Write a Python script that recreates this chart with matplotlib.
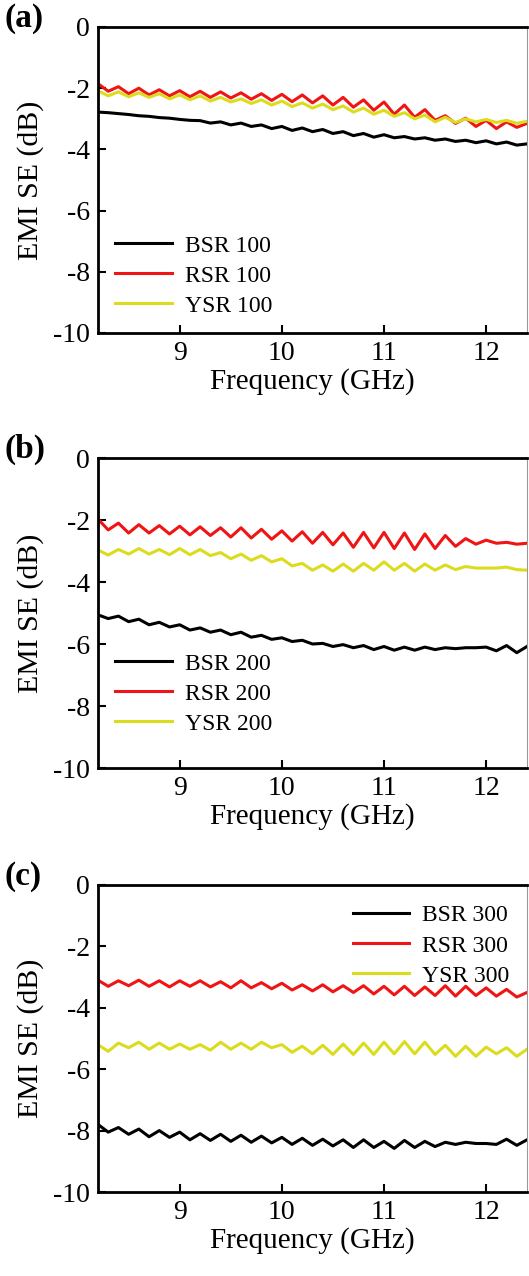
import numpy as np
import matplotlib
matplotlib.use("Agg")
import matplotlib.pyplot as plt

plt.rcParams['font.family'] = ['Liberation Serif', 'DejaVu Serif']
plt.rcParams['axes.unicode_minus'] = False

# frequency grid (GHz), 0.1 GHz steps 8.2 .. 12.4
freq = np.round(np.linspace(8.2, 12.4, 43), 2)

# panel (a)
bsr100 = [-2.78, -2.80, -2.83, -2.86, -2.90, -2.92, -2.96, -2.98, -3.02, -3.05,
          -3.06, -3.14, -3.10, -3.20, -3.14, -3.25, -3.20, -3.32, -3.25, -3.38,
          -3.30, -3.42, -3.35, -3.48, -3.42, -3.55, -3.48, -3.60, -3.52, -3.62,
          -3.58, -3.66, -3.62, -3.70, -3.66, -3.74, -3.70, -3.78, -3.72, -3.82,
          -3.76, -3.86, -3.82]
rsr100 = [-1.85, -2.10, -1.95, -2.18, -2.00, -2.22, -2.05, -2.25, -2.08, -2.28,
          -2.10, -2.30, -2.12, -2.32, -2.15, -2.36, -2.18, -2.40, -2.20, -2.44,
          -2.22, -2.48, -2.25, -2.55, -2.30, -2.62, -2.38, -2.72, -2.45, -2.85,
          -2.55, -2.95, -2.70, -3.05, -2.90, -3.15, -2.98, -3.25, -3.05, -3.32,
          -3.10, -3.28, -3.15]
ysr100 = [-2.08, -2.25, -2.12, -2.28, -2.15, -2.30, -2.18, -2.35, -2.22, -2.38,
          -2.25, -2.42, -2.30, -2.45, -2.35, -2.50, -2.38, -2.55, -2.42, -2.60,
          -2.48, -2.65, -2.52, -2.70, -2.58, -2.78, -2.65, -2.85, -2.72, -2.92,
          -2.80, -3.00, -2.88, -3.10, -2.95, -3.12, -3.00, -3.10, -3.02, -3.12,
          -3.05, -3.15, -3.08]

# panel (b)
bsr200 = [-5.06, -5.18, -5.10, -5.28, -5.20, -5.38, -5.30, -5.45, -5.38, -5.55,
          -5.48, -5.62, -5.55, -5.70, -5.62, -5.78, -5.72, -5.85, -5.80, -5.92,
          -5.88, -6.00, -5.98, -6.08, -6.02, -6.12, -6.05, -6.18, -6.08, -6.20,
          -6.10, -6.20, -6.10, -6.18, -6.12, -6.15, -6.12, -6.12, -6.10, -6.22,
          -6.05, -6.28, -6.08]
rsr200 = [-1.97, -2.32, -2.10, -2.42, -2.15, -2.42, -2.18, -2.45, -2.20, -2.48,
          -2.22, -2.50, -2.25, -2.55, -2.25, -2.58, -2.30, -2.62, -2.35, -2.68,
          -2.38, -2.75, -2.40, -2.80, -2.42, -2.88, -2.40, -2.90, -2.40, -2.92,
          -2.42, -2.95, -2.45, -2.92, -2.50, -2.85, -2.60, -2.78, -2.65, -2.75,
          -2.72, -2.78, -2.75]
ysr200 = [-2.97, -3.13, -2.95, -3.10, -2.92, -3.10, -2.95, -3.12, -2.92, -3.12,
          -2.95, -3.15, -3.05, -3.25, -3.10, -3.30, -3.15, -3.35, -3.25, -3.48,
          -3.40, -3.62, -3.45, -3.65, -3.42, -3.65, -3.40, -3.62, -3.35, -3.62,
          -3.40, -3.65, -3.42, -3.62, -3.45, -3.60, -3.50, -3.55, -3.55, -3.55,
          -3.52, -3.60, -3.62]

# panel (c)
bsr300 = [-7.80, -8.05, -7.90, -8.12, -7.95, -8.20, -8.00, -8.22, -8.05, -8.30,
          -8.10, -8.32, -8.12, -8.35, -8.15, -8.38, -8.18, -8.40, -8.22, -8.45,
          -8.25, -8.48, -8.28, -8.50, -8.30, -8.55, -8.30, -8.55, -8.35, -8.58,
          -8.32, -8.55, -8.35, -8.52, -8.38, -8.45, -8.38, -8.42, -8.42, -8.45,
          -8.28, -8.48, -8.30]
rsr300 = [-3.10, -3.30, -3.12, -3.28, -3.10, -3.30, -3.12, -3.32, -3.12, -3.30,
          -3.12, -3.32, -3.15, -3.35, -3.12, -3.35, -3.18, -3.38, -3.20, -3.42,
          -3.25, -3.45, -3.25, -3.48, -3.28, -3.50, -3.28, -3.55, -3.30, -3.58,
          -3.30, -3.60, -3.32, -3.60, -3.28, -3.62, -3.30, -3.60, -3.35, -3.62,
          -3.40, -3.65, -3.50]
ysr300 = [-5.20, -5.42, -5.15, -5.30, -5.12, -5.35, -5.15, -5.35, -5.18, -5.35,
          -5.20, -5.38, -5.12, -5.35, -5.15, -5.35, -5.12, -5.30, -5.20, -5.45,
          -5.25, -5.50, -5.22, -5.52, -5.18, -5.52, -5.15, -5.52, -5.12, -5.50,
          -5.10, -5.50, -5.12, -5.52, -5.22, -5.58, -5.25, -5.58, -5.28, -5.50,
          -5.30, -5.58, -5.35]

panels = [
    ("(a)", "100", [bsr100, rsr100, ysr100], (0.040, 0.320)),
    ("(b)", "200", [bsr200, rsr200, ysr200], (0.040, 0.371)),
    ("(c)", "300", [bsr300, rsr300, ysr300], (0.594, 0.935)),
]
names = ["BSR", "RSR", "YSR"]
colors = ["#000000", "#f01414", "#dcdc1e"]

W, H = 529, 1276
fig = plt.figure(figsize=(W / 100, H / 100), dpi=100)

tops = [27, 458, 885]
bottoms = [333, 768, 1192]
left, right = 98, 527

for i, (tag, num, series, anchor) in enumerate(panels):
    ax = fig.add_axes([left / W, 1 - bottoms[i] / H, (right - left) / W,
                       (bottoms[i] - tops[i]) / H])
    for name, vals, c in zip(names, series, colors):
        ax.plot(freq, vals, color=c, lw=2.2, label=f"{name} {num}")
    ax.set_xlim(8.2, 12.4)
    ax.set_ylim(-10, 0)
    ax.set_xticks([9, 10, 11, 12])
    ax.set_yticks([0, -2, -4, -6, -8, -10])
    ax.tick_params(direction='in', length=6, width=1.5, labelsize=20,
                   top=False, right=False, pad=6)
    ax.spines['left'].set_linewidth(2.0)
    ax.spines['bottom'].set_linewidth(2.0)
    ax.spines['top'].set_linewidth(2.0)
    ax.spines['right'].set_linewidth(0.8)
    ax.spines['right'].set_color('#999999')
    ax.set_xlabel("Frequency (GHz)", fontsize=21, labelpad=1)
    ax.set_ylabel("EMI SE (dB)", fontsize=21.5)
    ax.yaxis.set_label_coords(-0.125, 0.5)
    ax.legend(loc="upper left", bbox_to_anchor=anchor, frameon=False,
              fontsize=17, handlelength=2.4, handletextpad=0.55,
              labelspacing=0.36, borderaxespad=0, borderpad=0)
    fig.text(5 / W, 1 - (tops[i] - 9) / H, tag, fontsize=24, fontweight='bold',
             va='center', ha='left')

fig.savefig("out.png", dpi=100)
